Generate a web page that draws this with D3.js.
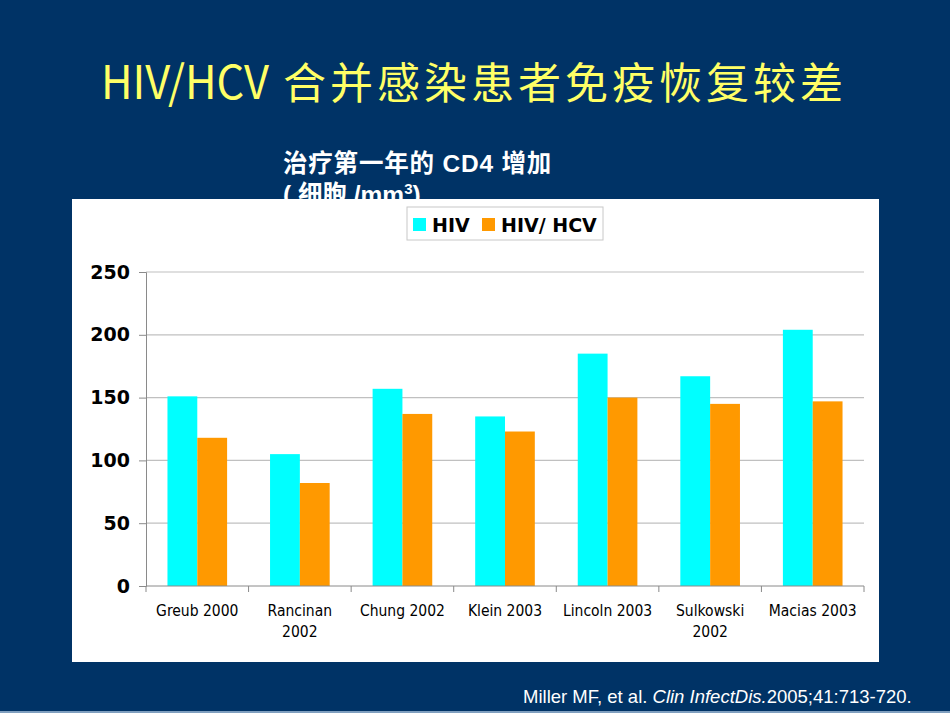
<!DOCTYPE html>
<html><head><meta charset="utf-8">
<script src="https://cdn.jsdelivr.net/npm/d3@7"></script>
<style>body{margin:0;background:#003366;}svg{display:block;}</style>
</head><body>
<script>
const categories = [["Greub 2000"],["Rancinan","2002"],["Chung 2002"],["Klein 2003"],["Lincoln 2003"],["Sulkowski","2002"],["Macias 2003"]];
const seriesNames = ["HIV","HIV/ HCV"];
const hivValues = [151,105,157,135,185,167,204];
const hivHcvValues = [118,82,137,123,150,145,147];
const yTicks = [0,50,100,150,200,250];
const colors = ["#00FFFF","#FF9900"];

const W=950,H=713;
const svg=d3.select("body").append("svg").attr("width",W).attr("height",H);
svg.append("rect").attr("width",W).attr("height",H).attr("fill","#003366");
svg.append("rect").attr("x",0).attr("y",711).attr("width",W).attr("height",2).attr("fill","#7f9fbf");

// title
const t=svg.append("text").attr("x",101).attr("y",99).attr("fill","#FFFF66")
  .attr("font-family","'Noto Sans CJK SC'").attr("font-size",43);
t.append("tspan").attr("font-size",46).attr("textLength",168).attr("lengthAdjust","spacingAndGlyphs").text("HIV/HCV");
t.append("tspan").attr("x",283).attr("letter-spacing",4).text("合并感染患者免疫恢复较差");

// subtitle
const sf="'Liberation Sans','Noto Sans CJK SC'";
svg.append("text").attr("x",283).attr("y",172).attr("fill","white").attr("font-weight","bold")
  .attr("font-family",sf).attr("font-size",24.5).attr("letter-spacing",0.8).text("治疗第一年的 CD4 增加");
const s2=svg.append("text").attr("x",283).attr("y",203).attr("fill","white").attr("font-weight","bold")
  .attr("font-family",sf).attr("font-size",24.5).text("( 细胞 /mm");
s2.append("tspan").attr("font-size",15).attr("dy",-9).text("3");
s2.append("tspan").attr("dy",9).text(")");

// panel
svg.append("rect").attr("x",72).attr("y",199).attr("width",807).attr("height",463).attr("fill","white");

const x0=d3.scaleBand().domain(d3.range(categories.length)).range([146,864]);
const x1=d3.scaleBand().domain([0,1]).range([0,x0.bandwidth()]).paddingOuter(0.72).paddingInner(0);
const y=d3.scaleLinear().domain([0,250]).range([586,272]);

// grid
svg.append("g").selectAll("line").data(yTicks.filter(d=>d>0)).join("line")
  .attr("x1",146).attr("x2",864).attr("y1",d=>y(d)).attr("y2",d=>y(d))
  .attr("stroke","#c0c0c0").attr("stroke-width",1.2);

// y axis
const ya=svg.append("g").attr("transform","translate(146,0)")
  .call(d3.axisLeft(y).tickValues(yTicks).tickSize(7).tickPadding(9));
ya.select(".domain").attr("stroke","#8a8a8a");
ya.selectAll(".tick line").attr("stroke","#8a8a8a");
ya.selectAll(".tick text").attr("font-family","'DejaVu Sans'").attr("font-weight","bold").attr("font-size",19).attr("fill","black");

// bars
const g=svg.append("g").selectAll("g").data(categories.map((c,i)=>i)).join("g")
  .attr("transform",i=>`translate(${x0(i)},0)`);
g.selectAll("rect").data(i=>[hivValues[i],hivHcvValues[i]]).join("rect")
  .attr("x",(d,j)=>x1(j)).attr("width",x1.bandwidth())
  .attr("y",d=>y(d)).attr("height",d=>y(0)-y(d))
  .attr("fill",(d,j)=>colors[j]);

// x axis
const xa=svg.append("g").attr("transform","translate(0,586)");
xa.append("line").attr("x1",146).attr("x2",864).attr("stroke","#8a8a8a");
xa.selectAll("line.tk").data(d3.range(categories.length+1)).join("line").attr("class","tk")
  .attr("x1",i=>146+i*x0.bandwidth()).attr("x2",i=>146+i*x0.bandwidth()).attr("y1",0).attr("y2",6).attr("stroke","#8a8a8a");
const xl=xa.selectAll("text").data(categories).join("text")
  .attr("text-anchor","middle").attr("font-family","'DejaVu Sans Condensed','DejaVu Sans'").attr("font-stretch","condensed")
  .attr("font-size",15.5).attr("fill","black");
xl.each(function(c,i){
  const el=d3.select(this);
  c.forEach((line,k)=>el.append("tspan").attr("x",x0(i)+x0.bandwidth()/2).attr("y",30+k*21).text(line));
});

// legend
const lg=svg.append("g");
lg.append("rect").attr("x",407).attr("y",207).attr("width",196).attr("height",33).attr("fill","white").attr("stroke","#c8c8c8");
const lx=[413,482];
seriesNames.forEach((n,i)=>{
  lg.append("rect").attr("x",lx[i]).attr("y",218).attr("width",13).attr("height",13).attr("fill",colors[i]);
  lg.append("text").attr("x",lx[i]+19).attr("y",232).attr("font-family","'DejaVu Sans'").attr("font-weight","bold")
    .attr("font-size",19).attr("fill","black").text(n);
});

// citation
const c=svg.append("text").attr("x",523).attr("y",703).attr("fill","white").attr("font-family","'Liberation Sans'").attr("font-size",18.5);
c.append("tspan").text("Miller MF, et al. ");
c.append("tspan").attr("font-style","italic").text("Clin InfectDis.");
c.append("tspan").text("2005;41:713-720.");
</script>
</body></html>
